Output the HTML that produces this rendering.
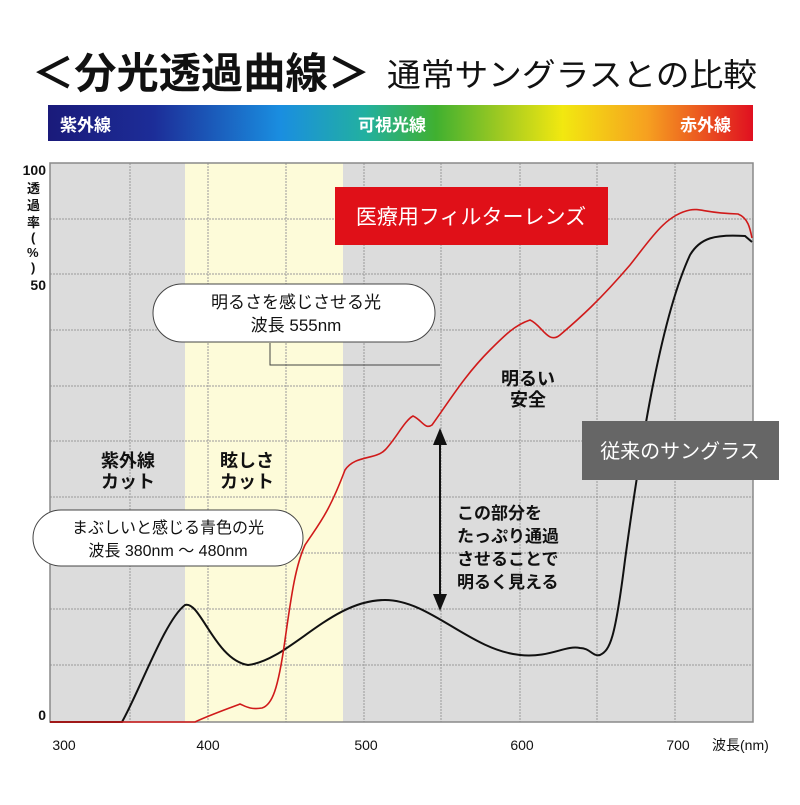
<!DOCTYPE html>
<html><head><meta charset="utf-8">
<style>
body{margin:0;background:#fff;}
svg text{font-family:"Liberation Sans","Noto Sans CJK JP",sans-serif;}
</style></head><body>
<svg width="800" height="800" viewBox="0 0 800 800" xmlns="http://www.w3.org/2000/svg">
<defs>
<linearGradient id="sp" x1="0" x2="1" y1="0" y2="0">
<stop offset="0" stop-color="#1a1a7a"/>
<stop offset="0.15" stop-color="#1c2d98"/>
<stop offset="0.33" stop-color="#1a8ee0"/>
<stop offset="0.45" stop-color="#22b0a0"/>
<stop offset="0.55" stop-color="#40b030"/>
<stop offset="0.65" stop-color="#a8cc20"/>
<stop offset="0.73" stop-color="#f2e810"/>
<stop offset="0.85" stop-color="#f6a020"/>
<stop offset="1" stop-color="#e01020"/>
</linearGradient>
</defs>
<text x="32" y="88" font-size="42" font-weight="bold" fill="#111" textLength="338" lengthAdjust="spacingAndGlyphs">＜分光透過曲線＞</text>
<text x="387" y="86" font-size="32" fill="#111" textLength="370" lengthAdjust="spacingAndGlyphs">通常サングラスとの比較</text>
<rect x="48" y="105" width="705" height="36" fill="url(#sp)"/>
<text x="60" y="131" font-size="17" fill="#fff" font-weight="bold">紫外線</text>
<text x="358" y="131" font-size="17" fill="#fff" font-weight="bold">可視光線</text>
<text x="680" y="131" font-size="17" fill="#fff" font-weight="bold">赤外線</text>

<rect x="50" y="163" width="703" height="559" fill="#dcdcdc"/>
<rect x="185" y="163" width="158" height="559" fill="#fdfbd9"/>
<g stroke="#9a9a9a" stroke-width="1" stroke-dasharray="2,1">
<line x1="50" y1="219" x2="753" y2="219"/><line x1="50" y1="274" x2="753" y2="274"/>
<line x1="50" y1="330" x2="753" y2="330"/><line x1="50" y1="386" x2="753" y2="386"/>
<line x1="50" y1="441" x2="753" y2="441"/><line x1="50" y1="497" x2="753" y2="497"/>
<line x1="50" y1="553" x2="753" y2="553"/><line x1="50" y1="609" x2="753" y2="609"/>
<line x1="50" y1="665" x2="753" y2="665"/>
<line x1="130" y1="163" x2="130" y2="722"/><line x1="208" y1="163" x2="208" y2="722"/>
<line x1="286" y1="163" x2="286" y2="722"/><line x1="364" y1="163" x2="364" y2="722"/>
<line x1="441" y1="163" x2="441" y2="722"/><line x1="520" y1="163" x2="520" y2="722"/>
<line x1="597" y1="163" x2="597" y2="722"/><line x1="675" y1="163" x2="675" y2="722"/>
</g>
<rect x="50" y="163" width="703" height="559" fill="none" stroke="#8a8a8a" stroke-width="1.5"/>

<text x="46" y="175" font-size="14" text-anchor="end" fill="#111" font-weight="bold">100</text>
<text x="46" y="290" font-size="14" text-anchor="end" fill="#111" font-weight="bold">50</text>
<text x="46" y="720" font-size="14" text-anchor="end" fill="#111" font-weight="bold">0</text>
<text font-size="13" fill="#111" font-weight="bold"><tspan x="27" y="193">透</tspan><tspan x="27" y="210">過</tspan><tspan x="27" y="227">率</tspan><tspan x="31" y="242">(</tspan><tspan x="27" y="257">%</tspan><tspan x="31" y="272">)</tspan></text>
<g font-size="14" fill="#111" text-anchor="middle">
<text x="64" y="750">300</text><text x="208" y="750">400</text><text x="366" y="750">500</text>
<text x="522" y="750">600</text><text x="678" y="750">700</text>
</g>
<text x="712" y="750" font-size="14" fill="#111">波長(nm)</text>

<path d="M50,722 L122,722 C140,690 165,620 185,605 C200,600 215,660 248,665 C290,660 330,600 385,600 C430,600 470,650 520,655 C550,658 565,645 580,648 C590,648 593,657 600,655 C610,650 615,640 625,560 C640,450 660,320 690,255 C700,238 715,234 745,236 L752,242" fill="none" stroke="#111" stroke-width="2"/>
<path d="M50,722 L195,722 C210,715 230,708 240,704 C245,706 250,710 262,708 C272,705 278,690 285,640 C292,590 296,565 305,545 C318,525 328,515 345,470 C355,455 375,460 385,450 C395,440 405,420 413,416 C422,420 425,430 432,425 C450,400 465,375 490,350 C505,335 515,325 530,320 C542,325 548,345 560,335 C580,318 600,300 630,265 C650,240 665,215 690,210 C700,208 705,213 738,214 C748,218 750,228 752,238" fill="none" stroke="#d01a1a" stroke-width="1.6"/>

<rect x="335" y="187" width="273" height="58" fill="#e01018"/>
<text x="471" y="224" font-size="21" fill="#fff" text-anchor="middle">医療用フィルターレンズ</text>

<path d="M270,343 L270,365 L440,365" fill="none" stroke="#444" stroke-width="1"/>
<rect x="153" y="284" width="282" height="58" rx="29" fill="#fff" stroke="#444" stroke-width="1"/>
<text x="296" y="308" font-size="17" fill="#111" text-anchor="middle">明るさを感じさせる光</text>
<text x="296" y="331" font-size="17" fill="#111" text-anchor="middle">波長 555nm</text>

<text x="528" y="385" font-size="18" fill="#111" font-weight="bold" text-anchor="middle">明るい</text>
<text x="528" y="406" font-size="18" fill="#111" font-weight="bold" text-anchor="middle">安全</text>

<rect x="582" y="421" width="197" height="59" fill="#666"/>
<text x="680" y="458" font-size="20" fill="#fff" text-anchor="middle">従来のサングラス</text>

<line x1="440" y1="440" x2="440" y2="598" stroke="#111" stroke-width="2"/>
<polygon points="433,445 447,445 440,428" fill="#111"/>
<polygon points="433,594 447,594 440,611" fill="#111"/>
<g font-size="17" fill="#111" font-weight="bold">
<text x="457" y="519">この部分を</text><text x="457" y="542">たっぷり通過</text>
<text x="457" y="565">させることで</text><text x="457" y="588">明るく見える</text>
</g>
<g font-size="18" fill="#111" font-weight="bold" text-anchor="middle">
<text x="128" y="467">紫外線</text><text x="128" y="488">カット</text>
<text x="247" y="467">眩しさ</text><text x="247" y="488">カット</text>
</g>
<rect x="33" y="510" width="270" height="56" rx="28" fill="#fff" stroke="#444" stroke-width="1"/>
<text x="168" y="533" font-size="16" fill="#111" text-anchor="middle">まぶしいと感じる青色の光</text>
<text x="168" y="556" font-size="16" fill="#111" text-anchor="middle">波長 380nm 〜 480nm</text>
</svg>
</body></html>
